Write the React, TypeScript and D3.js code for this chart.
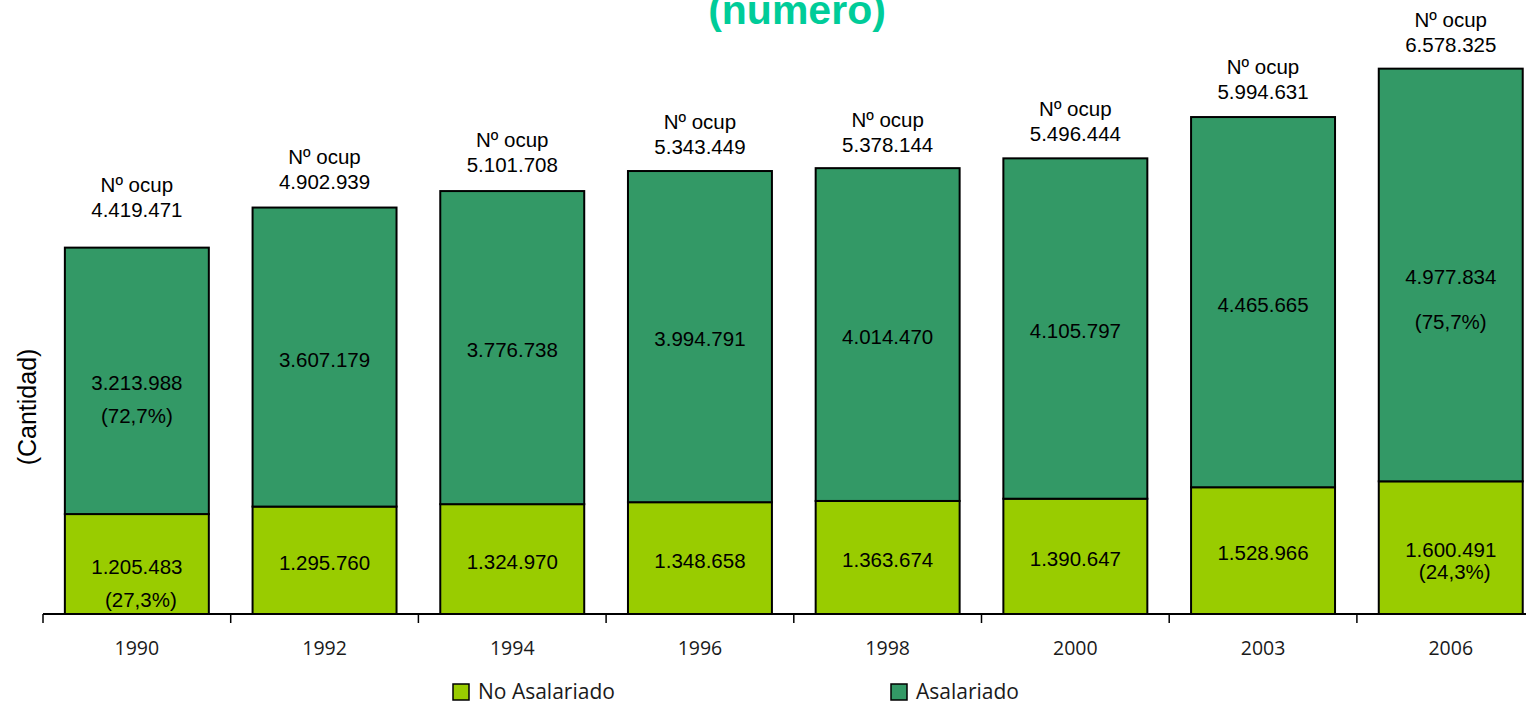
import { useMemo } from "react";
import * as d3 from "d3";

// años de la encuesta
const years = ["1990", "1992", "1994", "1996", "1998", "2000", "2003", "2006"];
// ocupados no asalariados (parte inferior)
const noAsalariado = [1205483, 1295760, 1324970, 1348658, 1363674, 1390647, 1528966, 1600491];
// ocupados asalariados (parte superior)
const asalariado = [3213988, 3607179, 3776738, 3994791, 4014470, 4105797, 4465665, 4977834];
// total de ocupados
const totals = [4419471, 4902939, 5101708, 5343449, 5378144, 5496444, 5994631, 6578325];
// años que muestran el porcentaje
const pctYears = ["1990", "2006"];

const seriesNames = ["No Asalariado", "Asalariado"];
const colors = ["#99CC00", "#339966"];

const W = 1526;
const H = 705;
const axisY = 614;
const labelFont = "'Liberation Sans', Arial, sans-serif";
const tickFont = "'Open Sans', 'Liberation Sans', sans-serif";

// ajustes finos de las etiquetas (a mano, como en el original)
const totalLift = [13, 1, 2, 0, -1, 0, 1, -1];
const pctGapAsal = [33, 0, 0, 0, 0, 0, 0, 45];
const pctGapNoAs = [33, 0, 0, 0, 0, 0, 0, 22];

const es = d3.formatLocale({
  decimal: ",",
  thousands: ".",
  grouping: [3],
  currency: ["", ""],
});
const fmtInt = es.format(",d");
const fmtPct = es.format(".1f");

export default function App() {
  const x = useMemo(() => {
    const step = 187.7;
    return d3
      .scaleBand<string>()
      .domain(years)
      .range([43, 43 + step * years.length])
      .paddingInner(0.233)
      .paddingOuter(0.1165);
  }, []);

  const k = 8.29e-5;
  const y = d3
    .scaleLinear()
    .domain([0, 7000000])
    .range([axisY, axisY - 7000000 * k]);

  const stacked = d3
    .stack<number>()
    .keys(["0", "1"])
    .value((i, key) => (key === "0" ? noAsalariado[i] : asalariado[i]))(
    d3.range(years.length)
  );

  const step = x.step();
  const bw = x.bandwidth();
  const boundaries = d3.range(years.length + 1).map((i) => 43 + i * step);

  return (
    <svg
      width={W}
      height={H}
      style={{ position: "absolute", left: 0, top: 0, background: "#fff" }}
    >
      <text
        x={797}
        y={24}
        textAnchor="middle"
        fontFamily={labelFont}
        fontWeight="bold"
        fontSize={41}
        fill="#00CC99"
      >
        (número)
      </text>

      <text
        transform={`translate(36,407) rotate(-90)`}
        textAnchor="middle"
        fontFamily={labelFont}
        fontSize={25}
        fill="#000"
      >
        (Cantidad)
      </text>

      {stacked.map((layer, si) => (
        <g key={si}>
          {layer.map((d, i) => (
            <rect
              key={i}
              x={x(years[i])}
              y={y(d[1])}
              width={bw}
              height={y(d[0]) - y(d[1])}
              fill={colors[si]}
              stroke="#000"
              strokeWidth={2}
            />
          ))}
        </g>
      ))}

      {stacked.map((layer, si) =>
        layer.map((d, i) => {
          const cx = (x(years[i]) ?? 0) + bw / 2;
          const cy = (y(d[0]) + y(d[1])) / 2 + 2;
          const v = si === 0 ? noAsalariado[i] : asalariado[i];
          const gap = si === 0 ? pctGapNoAs[i] : pctGapAsal[i];
          const showPct = pctYears.includes(years[i]);
          return (
            <g key={`l${si}-${i}`} fontFamily={labelFont} fontSize={20.5} fill="#000">
              <text x={cx} y={cy} textAnchor="middle" dominantBaseline="central">
                {fmtInt(v)}
              </text>
              {showPct && (
                <text
                  x={cx + (si === 0 ? 4 : 0)}
                  y={cy + gap}
                  textAnchor="middle"
                  dominantBaseline="central"
                >
                  ({fmtPct((v / totals[i]) * 100)}%)
                </text>
              )}
            </g>
          );
        })
      )}

      {totals.map((t, i) => {
        const cx = (x(years[i]) ?? 0) + bw / 2;
        const vy = y(t) - 25 - totalLift[i];
        return (
          <g key={`t${i}`} fontFamily={labelFont} fontSize={20.5} fill="#000">
            <text x={cx} y={vy - 25} textAnchor="middle" dominantBaseline="central">
              Nº ocup
            </text>
            <text x={cx} y={vy} textAnchor="middle" dominantBaseline="central">
              {fmtInt(t)}
            </text>
          </g>
        );
      })}

      <line x1={43} x2={W} y1={axisY} y2={axisY} stroke="#000" strokeWidth={2} />
      {boundaries.map((bx, i) => (
        <line
          key={`tk${i}`}
          x1={bx}
          x2={bx}
          y1={axisY}
          y2={axisY + 9}
          stroke="#000"
          strokeWidth={1.5}
        />
      ))}
      {years.map((yr) => (
        <text
          key={yr}
          x={(x(yr) ?? 0) + bw / 2}
          y={655}
          textAnchor="middle"
          fontFamily={tickFont}
          fontSize={19.5}
          fill="#1a1a1a"
        >
          {yr}
        </text>
      ))}

      {seriesNames.map((name, i) => {
        const lx = [453, 891][i];
        return (
          <g key={name}>
            <rect
              x={lx}
              y={684}
              width={16}
              height={16}
              fill={colors[i]}
              stroke="#000"
              strokeWidth={1.5}
            />
            <text
              x={lx + 25}
              y={699}
              fontFamily={tickFont}
              fontSize={21}
              fill="#1a1a1a"
            >
              {name}
            </text>
          </g>
        );
      })}
    </svg>
  );
}
